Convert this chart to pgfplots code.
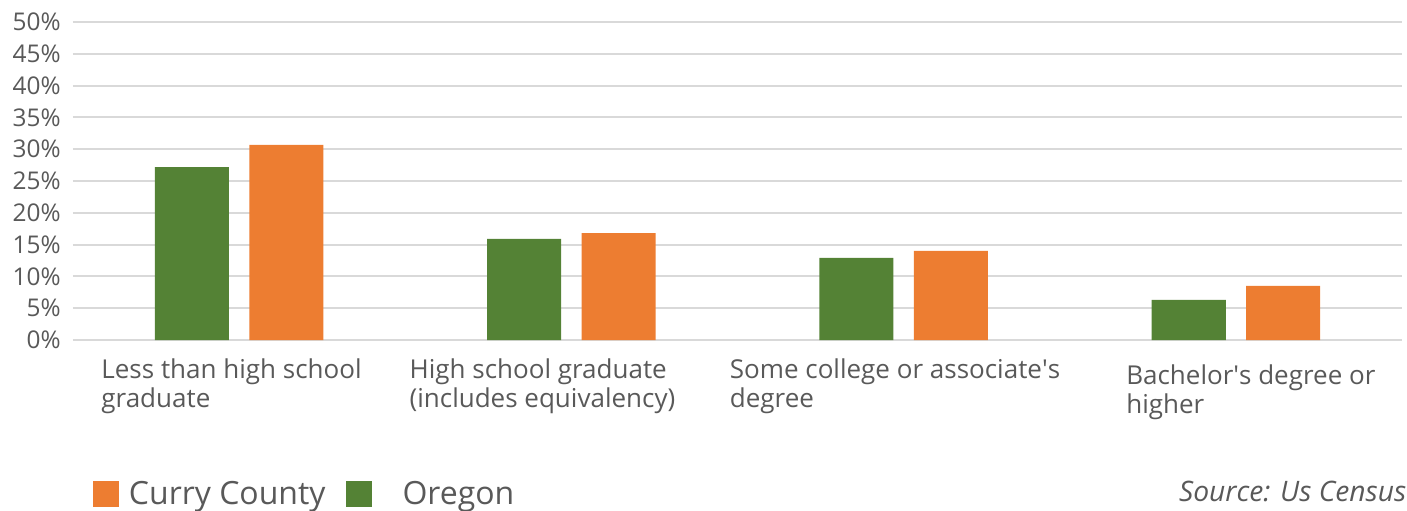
\documentclass[border=0pt]{standalone}
\usepackage{pgfplots}
\pgfplotsset{compat=1.18}
\usepackage{fontspec}
\setmainfont{Open Sans}
\definecolor{cgreen}{HTML}{548235}
\definecolor{corange}{HTML}{ED7D31}
\definecolor{ctext}{HTML}{595959}
\definecolor{cgrid}{HTML}{D9D9D9}
\begin{document}
\begin{tikzpicture}
\useasboundingbox (-36.5pt,-85pt) rectangle (667pt,170pt);
\begin{axis}[
  scale only axis,
  width=664.5pt, height=159pt,
  xmin=-0.5, xmax=3.5,
  ymin=0, ymax=50,
  ytick={0,5,...,50},
  yticklabel={\pgfmathprintnumber{\tick}\%},
  /pgf/number format/assume math mode=true,
  yticklabel style={font=\fontsize{12.2}{14}\selectfont, text=ctext, xshift=-2.6pt},
  xtick=\empty,
  ymajorgrids,
  grid style={cgrid, line width=1pt},
  axis line style={draw=none},
  major tick length=0pt,
  ybar,
  bar width=0.223,
  legend style={at={(axis description cs:0.0147,-0.484)}, anchor=west, draw=none,
    legend columns=2, font=\fontsize{16}{18}\selectfont, text=ctext, inner sep=0pt,
    /tikz/every even column/.append style={column sep=8pt}},
  legend image code/.code={\fill[#1,draw=none] (0pt,-6.5pt) rectangle (13pt,6.5pt);},
  clip=false,
]
\addplot[fill=corange, draw=none, bar shift=0.142] coordinates {(0,30.7) (1,16.8) (2,14.0) (3,8.5)};
\addlegendentry{\hspace{3pt}Curry County}
\addplot[fill=cgreen, draw=none, bar shift=-0.142] coordinates {(0,27.2) (1,15.9) (2,12.9) (3,6.3)};
\addlegendentry{\hspace{13.5pt}Oregon}
\begin{scope}[every node/.style={anchor=north west, align=left, text=ctext, font=\fontsize{13}{14.5}\selectfont, inner sep=0pt}]
\node at (axis cs:-0.4157,0) [yshift=-9pt] {Less than high school\\graduate};
\node at (axis cs:0.512,0) [yshift=-9pt] {High school graduate\\(includes equivalency)};
\node at (axis cs:1.476,0) [yshift=-9pt] {Some college or associate\textquotesingle s\\degree};
\node at (axis cs:2.669,0) [yshift=-12pt] {Bachelor\textquotesingle s degree or\\higher};
\end{scope}
\node[anchor=base east, inner sep=0pt, text=ctext, font=\fontsize{14.1}{16}\selectfont\itshape] at (axis description cs:1.0035,-0.509) {Source: Us Census};
\end{axis}
\end{tikzpicture}
\end{document}
